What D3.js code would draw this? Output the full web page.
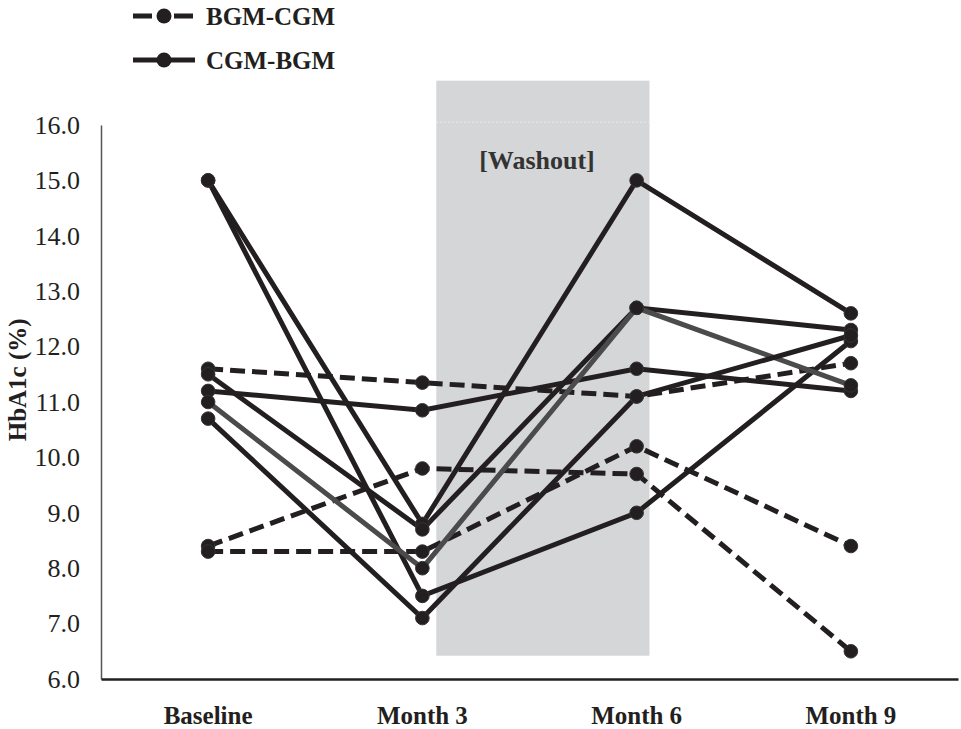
<!DOCTYPE html>
<html>
<head>
<meta charset="utf-8">
<script src="https://cdn.jsdelivr.net/npm/d3@7"></script>
<style>
  html, body { margin: 0; padding: 0; background: #fff; }
  svg { display: block; }
  text { font-family: "Liberation Serif", "Times New Roman", serif; fill: #231f20; }
</style>
</head>
<body>
<svg id="chart" width="961" height="729"></svg>
<script>
// ---- data ----
const categories = ["Baseline", "Month 3", "Month 6", "Month 9"];
const yTicks = [6, 7, 8, 9, 10, 11, 12, 13, 14, 15, 16];
// BGM-CGM group (dashed)
const bgmCgm1 = [11.6, 11.35, 11.1, 11.7];
const bgmCgm2 = [8.4, 9.8, 9.7, 6.5];
const bgmCgm3 = [8.3, 8.3, 10.2, 8.4];
// CGM-BGM group (solid)
const cgmBgm1 = [15.0, 8.8, 15.0, 12.6];
const cgmBgm2 = [15.0, 7.5, 9.0, 12.1];
const cgmBgm3 = [11.5, 8.7, 12.7, 12.3];
const cgmBgm4 = [11.2, 10.85, 11.6, 11.2];
const cgmBgm5 = [11.0, 8.0, 12.7, 11.3];
const cgmBgm6 = [10.7, 7.1, 11.1, 12.2];
const legendLabels = ["BGM-CGM", "CGM-BGM"];
const washoutLabel = "[Washout]";
const yTitle = "HbA1c (%)";

const dashedSeries = [bgmCgm1, bgmCgm2, bgmCgm3];
const solidSeries = [cgmBgm1, cgmBgm2, cgmBgm3, cgmBgm4, cgmBgm5, cgmBgm6];

// ---- layout ----
const svg = d3.select("#chart");
const mLeft = 101, mRight = 958, mTop = 125, mBottom = 679;
const dark = "#231f20", gray = "#4b4b4b";

const x = d3.scaleBand().domain(categories).range([mLeft, mRight]);
const cx = c => x(c) + x.bandwidth() / 2;
const xi = d3.scaleLinear().domain([0, categories.length - 1]).range([cx(categories[0]), cx(categories[categories.length - 1])]);
const y = d3.scaleLinear().domain([6, 16]).range([mBottom, mTop]);

// washout band (between Month 3 and Month 6)
svg.append("rect")
  .attr("x", xi(1.065)).attr("width", xi(2.06) - xi(1.065))
  .attr("y", y(16.8)).attr("height", y(6.42) - y(16.8))
  .attr("fill", "#d5d6d8");
svg.append("line")
  .attr("x1", xi(1.065)).attr("x2", xi(2.06))
  .attr("y1", y(16.05)).attr("y2", y(16.05))
  .attr("stroke", "#ececec").attr("stroke-width", 1).attr("stroke-dasharray", "2,2");
svg.append("text")
  .attr("x", xi(1.535)).attr("y", y(15.2))
  .attr("text-anchor", "middle").attr("font-weight", "bold").attr("font-size", 26)
  .style("fill", "#333")
  .text(washoutLabel);

// axes
const yAxis = d3.axisLeft(y).tickValues(yTicks).tickFormat(d3.format(".1f")).tickSize(0).tickPadding(21);
const gy = svg.append("g").attr("transform", `translate(${mLeft},0)`).call(yAxis);
gy.select(".domain").attr("stroke", "#555").attr("stroke-width", 1.5);
gy.selectAll(".tick text").attr("font-size", 26).style("font-family", '"Liberation Serif", serif').style("fill", dark);

const xAxis = d3.axisBottom(x).tickSize(0).tickPadding(27);
const gx = svg.append("g").attr("transform", `translate(0,${mBottom})`).call(xAxis);
gx.select(".domain").attr("stroke", dark).attr("stroke-width", 2.5);
gx.selectAll(".tick text").attr("font-size", 25).attr("font-weight", "bold").style("font-family", '"Liberation Serif", serif').style("fill", dark);

svg.append("text")
  .attr("transform", `translate(26,${y(11.4)}) rotate(-90)`)
  .attr("text-anchor", "middle").attr("font-weight", "bold").attr("font-size", 25)
  .text(yTitle);

// lines
const line = d3.line().x((d, i) => xi(i)).y(d => y(d));
const all = [
  ...dashedSeries.map(s => ({ s, dashed: true, color: dark })),
  ...solidSeries.map((s, i) => ({ s, dashed: false, color: i === 4 ? gray : dark }))
];
svg.append("g").selectAll("path").data(all).join("path")
  .attr("d", d => line(d.s))
  .attr("fill", "none")
  .attr("stroke", d => d.color)
  .attr("stroke-width", 5)
  .attr("stroke-dasharray", d => d.dashed ? "15,7" : null);

// points
all.forEach(d => {
  svg.append("g").selectAll("circle").data(d.s).join("circle")
    .attr("cx", (v, i) => xi(i)).attr("cy", v => y(v))
    .attr("r", 6.8).attr("fill", dark).attr("stroke", "#333").attr("stroke-width", 1);
});

// legend
const lg = svg.append("g");
legendLabels.forEach((lab, i) => {
  const ly = 16 + i * 44;
  lg.append("line").attr("x1", 133).attr("x2", 195).attr("y1", ly).attr("y2", ly)
    .attr("stroke", dark).attr("stroke-width", 5)
    .attr("stroke-dasharray", i === 0 ? "19,22" : null);
  lg.append("circle").attr("cx", 164).attr("cy", ly).attr("r", 7.5).attr("fill", dark);
  lg.append("text").attr("x", 206).attr("y", ly + 8.5)
    .attr("font-weight", "bold").attr("font-size", 25).text(lab);
});
</script>
</body>
</html>
